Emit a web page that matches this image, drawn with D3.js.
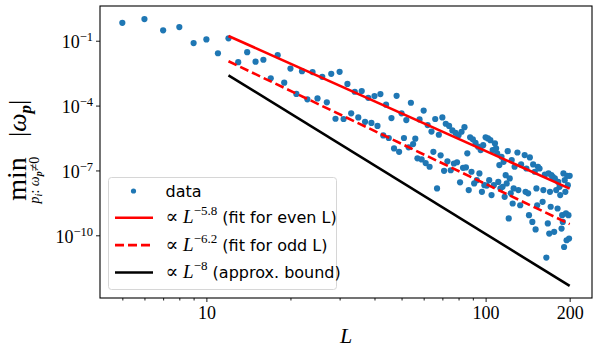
<!DOCTYPE html>
<html>
<head>
<meta charset="utf-8">
<script src="https://cdn.jsdelivr.net/npm/d3@7"></script>
<style>
body { margin: 0; background: #fff; }
.serif { font-family: "Liberation Serif", "DejaVu Serif", serif; }
.sans { font-family: "DejaVu Sans", sans-serif; }
</style>
</head>
<body>
<div id="chart-area"></div>
<script>
// system sizes L and the smallest nonzero |omega_p| (stored as log10)
const sizeL = [
  5, 6, 7, 8, 9, 10, 11, 12, 13, 14, 15, 16, 17, 18, 19, 20, 21, 22, 23, 24,
  25, 26, 27, 28, 29, 30, 31, 32, 33, 34, 35, 36, 37, 38, 39, 40, 41, 42, 43, 44,
  45, 46, 47, 48, 49, 50, 51, 52, 53, 54, 55, 56, 57, 58, 59, 60, 61, 62, 63, 64,
  65, 66, 67, 68, 69, 70, 71, 72, 73, 74, 75, 76, 77, 78, 79, 80, 81, 82, 83, 84,
  85, 86, 87, 88, 89, 90, 91, 92, 93, 94, 95, 96, 97, 98, 99, 100, 101, 102, 103, 104,
  105, 106, 107, 108, 109, 110, 111, 112, 113, 114, 115, 116, 117, 118, 119, 120, 121, 122, 123, 124,
  125, 126, 127, 130, 131, 133, 134, 138, 139, 140, 142, 143, 144, 147, 148, 150, 151, 152, 153, 154,
  156, 160, 161, 163, 165, 167, 168, 169, 170, 171, 172, 174, 176, 177, 179, 181, 182, 184, 185, 187,
  188, 189, 190, 191, 192, 193, 194, 195, 196, 197, 198, 199, 200
];
const minOmegaExp = [
  -0.17, 0.0, -0.52, -0.37, -1.11, -0.94, -1.58, -0.89, -1.99, -1.53, -1.97, -1.88, -2.74, -1.67, -2.94, -2.29, -3.46, -2.41, -3.71, -2.45,
  -3.67, -2.67, -3.85, -2.53, -4.61, -2.44, -4.62, -3.00, -4.36, -3.36, -4.55, -3.33, -4.75, -3.64, -4.80, -3.56, -4.94, -3.47, -5.38, -3.96,
  -5.50, -4.58, -5.98, -3.55, -6.14, -4.36, -5.50, -4.67, -5.93, -3.87, -5.78, -5.53, -6.44, -4.64, -6.49, -4.23, -6.66, -4.90, -6.83, -5.20,
  -6.14, -4.62, -7.83, -5.35, -6.30, -4.55, -7.02, -4.84, -6.58, -4.94, -6.99, -5.15, -6.68, -5.26, -6.62, -5.37, -7.55, -5.21, -6.88, -5.00,
  -6.86, -6.21, -7.91, -5.47, -7.06, -5.56, -7.60, -5.72, -7.45, -5.90, -7.14, -6.06, -7.99, -5.83, -7.68, -5.47, -7.70, -5.52, -7.45, -5.60,
  -8.14, -6.06, -7.68, -5.75, -5.98, -6.21, -7.53, -6.75, -7.83, -6.37, -7.76, -6.60, -8.22, -7.22, -7.60, -6.11, -9.22, -7.37, -8.06, -6.52,
  -8.53, -7.83, -6.83, -6.17, -7.91, -8.61, -6.72, -6.29, -7.99, -6.91, -8.06, -9.07, -6.40, -9.38, -6.72, -7.06, -9.73, -7.83, -8.61, -6.83,
  -6.91, -8.45, -7.91, -7.19, -11.03, -9.45, -7.14, -9.92, -7.99, -8.68, -7.22, -7.30, -9.84, -7.37, -7.91, -8.76, -7.53, -7.76, -8.14, -9.69,
  -9.07, -9.38, -7.14, -10.54, -7.45, -7.99, -8.99, -10.23, -7.25, -7.68, -9.07, -10.15, -7.25
];

// fitted / bound lines: start and end L, log10 values read at both ends
const fitL = [12, 200];
const fitEvenExp = [-0.78, -7.84];
const fitOddExp = [-1.95, -9.48];
const boundExp = [-2.60, -12.34];

const xMajor = [10, 100, 200];
const xMinor = [5, 6, 7, 8, 9, 20, 30, 40, 50, 60, 70, 80, 90];
const yMajorExp = [-1, -4, -7, -10];

const W = 598, H = 354;
const margin = { top: 6, right: 6, bottom: 56, left: 100 };
const width = W - margin.left - margin.right;
const height = H - margin.top - margin.bottom;

const svg = d3.select("#chart-area")
  .append("svg")
    .attr("width", W)
    .attr("height", H);

const chart = svg.append("g")
    .attr("transform", `translate(${margin.left},${margin.top})`);

const xScale = d3.scaleLog()
  .domain([Math.pow(10, 0.619), Math.pow(10, 2.381)])
  .range([0, width]);

const yScale = d3.scaleLog()
  .domain([Math.pow(10, -12.9), Math.pow(10, 0.606)])
  .range([height, 0]);

// axes
const xAxisG = chart.append("g")
    .attr("transform", `translate(0,${height})`)
    .call(d3.axisBottom(xScale).tickValues(xMajor).tickSize(4).tickFormat(d => d));
xAxisG.selectAll("text")
    .attr("class", "serif")
    .style("font-size", "18px")
    .attr("fill", "#000")
    .attr("y", 8)
    .attr("dy", "0.71em");

chart.append("g")
    .attr("transform", `translate(0,${height})`)
    .call(d3.axisBottom(xScale).tickValues(xMinor).tickSize(2.5).tickFormat(""));

const yAxisG = chart.append("g")
    .call(d3.axisLeft(yScale).tickValues(yMajorExp.map(e => Math.pow(10, e))).tickSize(4).tickFormat(""));

yAxisG.selectAll(".tick").each(function(d, i) {
  const t = d3.select(this).append("text")
      .attr("class", "serif")
      .attr("x", -7)
      .attr("y", 7)
      .attr("text-anchor", "end")
      .attr("fill", "#000")
      .style("font-size", "18px");
  t.append("tspan").text("10");
  t.append("tspan")
      .attr("dy", -7)
      .style("font-size", "12.5px")
      .text("\u2212" + Math.abs(yMajorExp[i]));
});

chart.selectAll(".domain").remove();
chart.selectAll(".tick line").attr("stroke", "#000").attr("stroke-width", 0.9);

// frame
chart.append("rect")
    .attr("width", width)
    .attr("height", height)
    .attr("fill", "none")
    .attr("stroke", "#000")
    .attr("stroke-width", 1.1);

// data points
const points = sizeL.map((L, i) => ({ L: L, w: Math.pow(10, minOmegaExp[i]) }));
chart.selectAll(".dot")
  .data(points)
  .enter()
  .append("circle")
    .attr("class", "dot")
    .attr("cx", d => xScale(d.L))
    .attr("cy", d => yScale(d.w))
    .attr("r", 3.1)
    .attr("fill", "#1f77b4");

const line = d3.line()
    .x(d => xScale(d[0]))
    .y(d => yScale(Math.pow(10, d[1])));

function fitLine(exps, color, dash) {
  chart.append("path")
    .datum(fitL.map((L, i) => [L, exps[i]]))
    .attr("d", line)
    .attr("fill", "none")
    .attr("stroke", color)
    .attr("stroke-width", 2.6)
    .attr("stroke-dasharray", dash);
}
fitLine(fitEvenExp, "#ff0000", null);
fitLine(fitOddExp, "#ff0000", "9,4");
fitLine(boundExp, "#000000", null);

// legend
const legend = svg.append("g").attr("transform", "translate(108.5,177.5)");
legend.append("rect")
    .attr("width", 228)
    .attr("height", 112)
    .attr("rx", 3)
    .attr("fill", "#fff")
    .attr("fill-opacity", 0.85)
    .attr("stroke", "#d6d6d6");

legend.append("circle")
    .attr("cx", 25)
    .attr("cy", 13.5)
    .attr("r", 2.6)
    .attr("fill", "#1f77b4");
legend.append("text")
    .attr("class", "sans")
    .attr("x", 57)
    .attr("y", 19)
    .style("font-size", "16px")
    .text("data");

const legendRows = [
  { exp: "\u22125.8", note: "(fit for even L)", color: "#ff0000", dash: null },
  { exp: "\u22126.2", note: "(fit for odd L)", color: "#ff0000", dash: "9,4" },
  { exp: "\u22128", note: "(approx. bound)", color: "#000000", dash: null }
];

legendRows.forEach((r, i) => {
  const cy = 40.2 + i * 27.4;
  legend.append("line")
      .attr("x1", 6.5).attr("x2", 44.5)
      .attr("y1", cy).attr("y2", cy)
      .attr("stroke", r.color)
      .attr("stroke-width", 2.6)
      .attr("stroke-dasharray", r.dash);
  const t = legend.append("text")
      .attr("x", 57)
      .attr("y", cy + 5.5)
      .style("font-size", "16px");
  t.append("tspan").attr("class", "serif").style("font-size", "19px").text("\u221D ");
  t.append("tspan").attr("class", "serif").style("font-size", "19px").style("font-style", "italic").text("L");
  t.append("tspan").attr("class", "serif").attr("dy", -8).style("font-size", "13px").text(r.exp);
  t.append("tspan").attr("class", "sans").attr("dy", 8).text(" " + r.note);
});

// axis labels
svg.append("text")
    .attr("class", "serif")
    .attr("x", margin.left + width / 2)
    .attr("y", 343)
    .attr("text-anchor", "middle")
    .style("font-size", "22px")
    .style("font-style", "italic")
    .text("L");

const yLab = svg.append("g")
    .attr("transform", "translate(26,152) rotate(-90)");
yLab.append("text")
    .attr("class", "serif")
    .attr("x", -27)
    .attr("y", 0)
    .attr("text-anchor", "middle")
    .style("font-size", "28px")
    .text("min");
const sub = yLab.append("text")
    .attr("class", "serif")
    .attr("x", -28)
    .attr("y", 13)
    .attr("text-anchor", "middle")
    .style("font-size", "14px");
sub.append("tspan").style("font-style", "italic").text("p");
sub.append("tspan").style("font-style", "italic").style("font-size", "10px").attr("dy", 3).text("i");
sub.append("tspan").attr("dy", -3).text(": ");
sub.append("tspan").style("font-style", "italic").text("\u03C9");
sub.append("tspan").style("font-style", "italic").style("font-weight", "bold").style("font-size", "10px").attr("dy", 3).text("p");
sub.append("tspan").attr("dy", -3).text("\u22600");

const mag = yLab.append("text")
    .attr("class", "serif")
    .attr("x", 15)
    .attr("y", 0)
    .style("font-size", "26px");
mag.append("tspan").text("|");
mag.append("tspan").style("font-style", "italic").text("\u03C9");
mag.append("tspan").style("font-style", "italic").style("font-weight", "bold").style("font-size", "17px").attr("dy", 5).text("p");
mag.append("tspan").attr("dy", -5).text("|");
</script>
</body>
</html>
